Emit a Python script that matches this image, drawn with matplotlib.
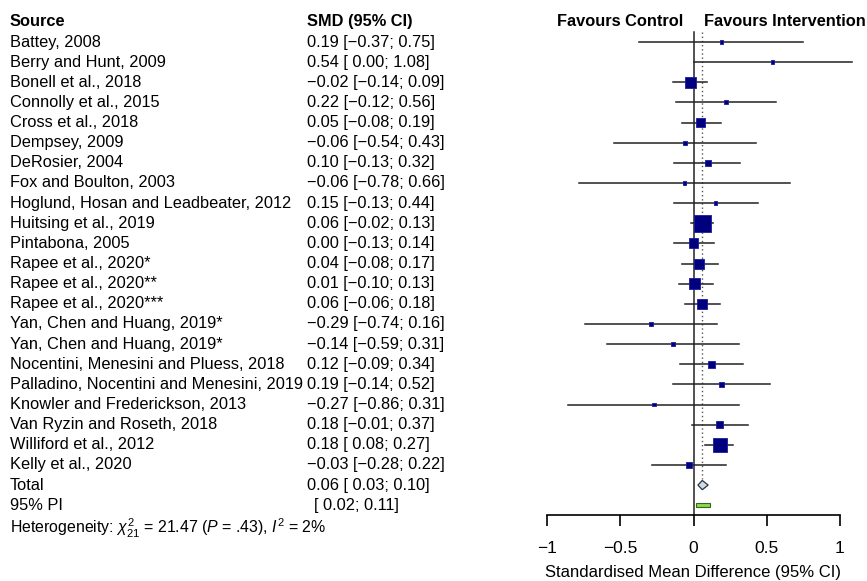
import matplotlib
matplotlib.use("Agg")
import matplotlib.pyplot as plt
import matplotlib.transforms as mtransforms
from matplotlib.patches import Polygon, Rectangle
import numpy as np

plt.rcParams['font.family'] = ['Liberation Sans', 'DejaVu Sans']
plt.rcParams['mathtext.fontset'] = 'custom'
plt.rcParams['mathtext.rm'] = 'Liberation Sans'
plt.rcParams['mathtext.it'] = 'Liberation Sans:italic'
plt.rcParams['mathtext.bf'] = 'Liberation Sans:bold'

studies = ["Battey, 2008", "Berry and Hunt, 2009", "Bonell et al., 2018",
           "Connolly et al., 2015", "Cross et al., 2018", "Dempsey, 2009",
           "DeRosier, 2004", "Fox and Boulton, 2003",
           "Hoglund, Hosan and Leadbeater, 2012", "Huitsing et al., 2019",
           "Pintabona, 2005", "Rapee et al., 2020*", "Rapee et al., 2020**",
           "Rapee et al., 2020***", "Yan, Chen and Huang, 2019*",
           "Yan, Chen and Huang, 2019*", "Nocentini, Menesini and Pluess, 2018",
           "Palladino, Nocentini and Menesini, 2019",
           "Knowler and Frederickson, 2013", "Van Ryzin and Roseth, 2018",
           "Williford et al., 2012", "Kelly et al., 2020"]
smd = [0.19, 0.54, -0.02, 0.22, 0.05, -0.06, 0.10, -0.06, 0.15, 0.06, 0.00,
       0.04, 0.01, 0.06, -0.29, -0.14, 0.12, 0.19, -0.27, 0.18, 0.18, -0.03]
lower = [-0.37, 0.00, -0.14, -0.12, -0.08, -0.54, -0.13, -0.78, -0.13, -0.02,
         -0.13, -0.08, -0.10, -0.06, -0.74, -0.59, -0.09, -0.14, -0.86, -0.01,
         0.08, -0.28]
upper = [0.75, 1.08, 0.09, 0.56, 0.19, 0.43, 0.32, 0.66, 0.44, 0.13, 0.14,
         0.17, 0.13, 0.18, 0.16, 0.31, 0.34, 0.52, 0.31, 0.37, 0.27, 0.22]
weights = [0.6, 0.6, 8.6, 1.1, 5.8, 1.1, 2.6, 0.3, 1.1, 20.6, 7.1, 7.1, 8.6,
           7.1, 1.1, 0.6, 3.5, 1.8, 0.3, 3.5, 14.0, 2.6]
total = (0.06, 0.03, 0.10)
pi = (0.02, 0.11)
xticks = [-1, -0.5, 0, 0.5, 1]
xticklabels = ["\u22121", "\u22120.5", "0", "0.5", "1"]


def fmt(v):
    s = f"{abs(v):.2f}"
    return ("\u2212" + s) if v < 0 else s


def fmt_lo(v):
    s = f"{abs(v):.2f}"
    return ("\u2212" + s) if v < 0 else (" " + s)


W, H = 867, 581
fig = plt.figure(figsize=(W / 100, H / 100), dpi=100)
row0_px, step_px, axis_px = 42, 20.14, 515
n = len(studies)
ybot = (axis_px - row0_px) / step_px
ytop = -row0_px / step_px
ax = fig.add_axes([547 / W, (H - axis_px) / H, 293 / W, axis_px / H])
ax.set_xlim(-1, 1)
ax.set_ylim(ybot, ytop)
for sp in ['left', 'right', 'top']:
    ax.spines[sp].set_visible(False)
ax.spines['bottom'].set_linewidth(1.2)
ax.set_yticks([])
ax.set_xticks(xticks)
ax.set_xticklabels(xticklabels, fontsize=12.5)
ax.tick_params(axis='x', direction='out', length=8, width=1.2, pad=11)
fig.text(693 / W, 1 - 573 / H, "Standardised Mean Difference (95% CI)",
         fontsize=12, ha='center', va='center')

rows = np.arange(n)
ytot = n
ypi = n + 1
top_line = -0.5

ax.plot([0, 0], [top_line, ybot], color='#222222', lw=1.1, clip_on=False)
ax.plot([total[0], total[0]], [top_line, ytot - 0.3], color='#555555', lw=1.0,
        ls=(0, (1, 2)))

for i in range(n):
    ax.plot([lower[i], upper[i]], [rows[i], rows[i]], color='#222222', lw=1.1,
            clip_on=False, zorder=2)
side_px = np.maximum(np.sqrt(np.array(weights)) * 3.74, 3.5)
side_pt = side_px * 0.72
ax.scatter(smd, rows, s=side_pt ** 2, marker='s', color='#00007f',
           edgecolors='#1a1aa0', linewidths=0.6, zorder=3)

dh = 0.23
diamond = Polygon([[total[1], ytot], [total[0], ytot - dh], [total[2], ytot],
                   [total[0], ytot + dh]], closed=True, facecolor='#c6def0',
                  edgecolor='#333333', lw=0.9, zorder=3)
ax.add_patch(diamond)
rect = Rectangle((pi[0], ypi - 0.1), pi[1] - pi[0], 0.2, facecolor='#8fd84a',
                 edgecolor='#336622', lw=0.8, zorder=3)
ax.add_patch(rect)

tr = mtransforms.blended_transform_factory(fig.transFigure, ax.transData)
fs = 11.8
xs, xsmd = 10 / W, 307 / W
ax.text(xs, -1, "Source", transform=tr, fontsize=fs, fontweight='bold',
        va='center', ha='left')
ax.text(xsmd, -1, "SMD (95% CI)", transform=tr, fontsize=fs,
        fontweight='bold', va='center', ha='left')
ax.text(683 / W, -1, "Favours Control", transform=tr, fontsize=fs,
        fontweight='bold', va='center', ha='right')
ax.text(704 / W, -1, "Favours Intervention", transform=tr, fontsize=fs,
        fontweight='bold', va='center', ha='left', clip_on=False)
for i in range(n):
    ax.text(xs, rows[i], studies[i], transform=tr, fontsize=fs, va='center')
    ax.text(xsmd, rows[i], f"{fmt(smd[i])} [{fmt_lo(lower[i])}; {fmt(upper[i])}]",
            transform=tr, fontsize=fs, va='center')
ax.text(xs, ytot, "Total", transform=tr, fontsize=fs, va='center')
ax.text(xsmd, ytot, f"{fmt(total[0])} [{fmt_lo(total[1])}; {fmt(total[2])}]",
        transform=tr, fontsize=fs, va='center')
ax.text(xs, ypi, "95% PI", transform=tr, fontsize=fs, va='center')
ax.text(314 / W, ypi, f"[{fmt_lo(pi[0])}; {fmt(pi[1])}]", transform=tr,
        fontsize=fs, va='center')
ax.text(xs, ypi + 1.15,
        r"Heterogeneity: $\chi^2_{21}$ = 21.47 ($P$ = .43), $I^2$ = 2%",
        transform=tr, fontsize=11.4, va='center')

fig.savefig("out.png", dpi=100)
